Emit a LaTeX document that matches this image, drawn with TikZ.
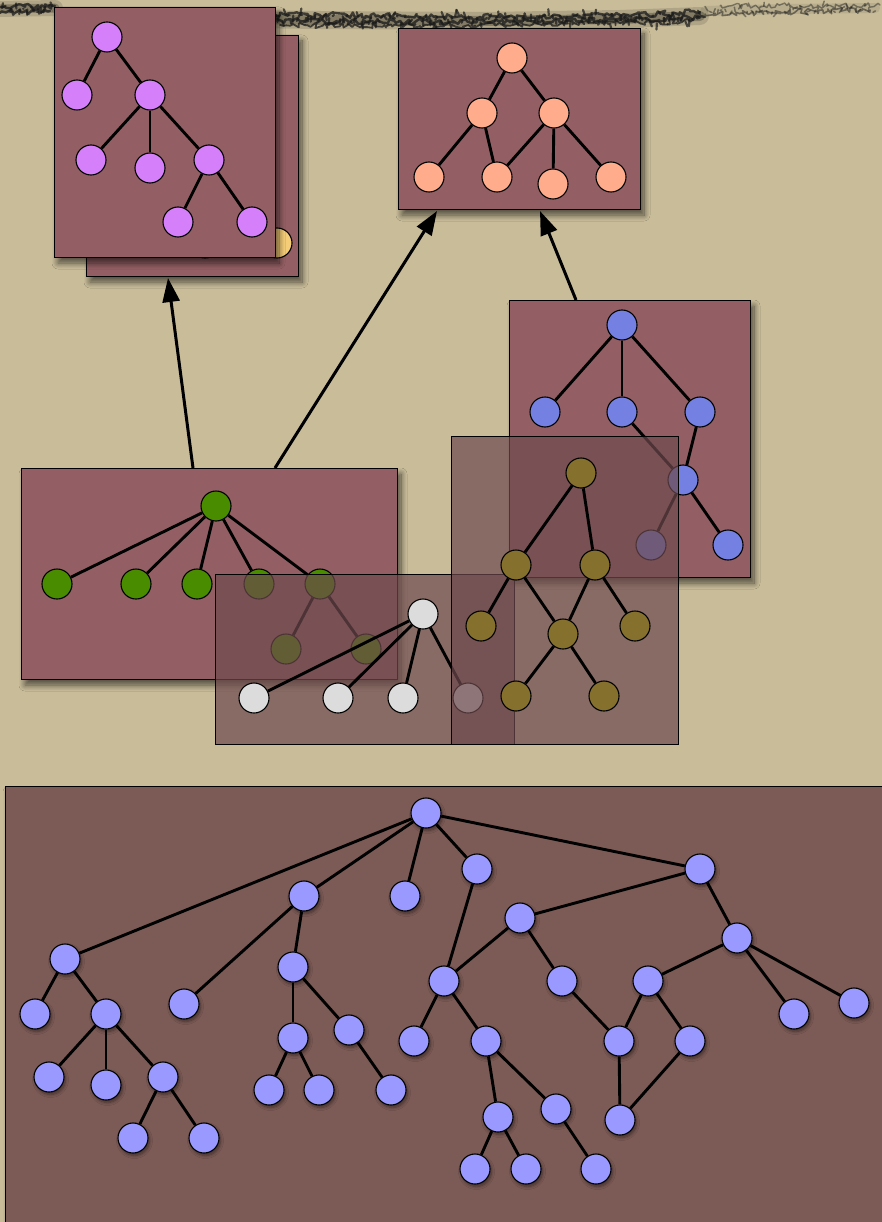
\documentclass[tikz,border=0pt]{standalone}
\usetikzlibrary{shadows.blur,arrows.meta,decorations.pathmorphing}
\definecolor{paper}{HTML}{C8BC99}
\definecolor{panelc}{HTML}{935F64}
\definecolor{glassc}{HTML}{6E4A4E}
\definecolor{basec}{HTML}{7C5A55}
\definecolor{purplec}{HTML}{D580FA}
\definecolor{yellowc}{HTML}{F5CD78}
\definecolor{peachc}{HTML}{FFAC8C}
\definecolor{bluec}{HTML}{7480E2}
\definecolor{greenc}{HTML}{4A8C00}
\definecolor{whitec}{HTML}{DCDCDC}
\definecolor{olivec}{HTML}{85702E}
\definecolor{lilacc}{HTML}{9999FF}
\tikzset{
  panel/.style={draw=black, line width=0.9pt, fill=panelc, inner sep=0pt, outer sep=0pt,
    anchor=north west, blur shadow={shadow xshift=4pt, shadow yshift=-6pt,
    shadow blur radius=6pt, shadow blur steps=10, shadow opacity=60}},
  glass/.style={draw=black, line width=0.9pt, fill=glassc, fill opacity=0.7,
    inner sep=0pt, outer sep=0pt, anchor=north west},
  tn/.style={circle, draw=black, line width=1.1pt, minimum size=30pt, inner sep=0pt},
  tnsh/.style={tn, blur shadow={shadow xshift=1.5pt, shadow yshift=-2.5pt,
    shadow blur radius=3pt, shadow blur steps=6, shadow opacity=45}},
  ed/.style={line width=2.9pt, draw=black},
  arr/.style={line width=3pt, draw=black, -{Triangle[length=24pt,width=17pt]}},
  scrib/.style={draw=black!90, line width=2.4pt, opacity=0.75, line cap=round,
    line join=round, decorate,
    decoration={random steps, segment length=2.5pt, amplitude=3pt}},
  inkstroke/.style={draw=black!90, line width=2.2pt, opacity=0.7, line cap=round},
  inkhaze/.style={draw=black, line cap=round, line join=round}
}
\begin{document}
\begin{tikzpicture}[x=1pt,y=-1pt]
\pgfmathsetseed{11}
\fill[paper] (0,0) rectangle (882,1222);
\useasboundingbox (0,0) rectangle (882,1222);

% handwritten ink line along the top edge of the sheet
\draw[inkhaze, line width=16pt, opacity=0.12] (0,9) -- (55,8);
\draw[inkhaze, line width=9pt, opacity=0.25] (0,9) -- (55,8);
\draw[inkhaze, line width=18pt, opacity=0.12] (160,18) -- (320,20) -- (480,21) -- (620,19) -- (700,16);
\draw[inkhaze, line width=10pt, opacity=0.25] (160,18) -- (320,20) -- (480,21) -- (620,19) -- (700,16);
\draw[inkhaze, line width=10pt, opacity=0.08] (705,11) -- (790,9) -- (875,8);
\draw[scrib] (0,7) -- (55,6);
\draw[scrib] (0,13) -- (50,11);
\draw[scrib] (150,18) -- (300,21) -- (450,22) -- (600,20) -- (705,17);
\draw[scrib] (160,13) -- (320,15) -- (480,17) -- (620,15) -- (700,12);
\draw[scrib, line width=1.8pt] (280,25) -- (420,26) -- (560,24) -- (690,21);
\draw[scrib, line width=1.6pt, opacity=0.5] (705,14) -- (780,12) -- (870,10);
\draw[scrib, line width=1.4pt, opacity=0.45] (720,6) -- (800,6) -- (880,5);
\foreach \i in {0,...,150} {
  \pgfmathsetmacro\xx{160+\i*3.6}
  \pgfmathsetmacro\yy{19+rand*5}
  \pgfmathsetmacro\dx{rand*3}
  \pgfmathsetmacro\dy{rand*7}
  \draw[inkstroke] (\xx,\yy) -- ++(\dx,\dy);
}
\foreach \i in {0,...,14} {
  \pgfmathsetmacro\xx{2+\i*3.6}
  \pgfmathsetmacro\yy{9+rand*4}
  \pgfmathsetmacro\dx{rand*3}
  \pgfmathsetmacro\dy{rand*6}
  \draw[inkstroke] (\xx,\yy) -- ++(\dx,\dy);
}
\foreach \i in {0,...,40} {
  \pgfmathsetmacro\xx{705+\i*4.2}
  \pgfmathsetmacro\yy{10+rand*4}
  \pgfmathsetmacro\dx{rand*3}
  \pgfmathsetmacro\dy{rand*5}
  \draw[inkstroke, opacity=0.45, line width=1.5pt] (\xx,\yy) -- ++(\dx,\dy);
}

% ---------- purple tree (with a stacked panel behind it) ----------
\node[panel, minimum width=212pt, minimum height=241pt] (pBack) at (86,35) {};
\node[tn, fill=yellowc] (ye1) at (205,243) {};
\node[tn, fill=yellowc] (ye2) at (277,243) {};
\node[panel, minimum width=221pt, minimum height=250pt] (pFront) at (54,7) {};
\node[tn, fill=purplec] (pu1) at (107,37) {};
\node[tn, fill=purplec] (pu2) at (77,95) {};
\node[tn, fill=purplec] (pu3) at (150,95) {};
\node[tn, fill=purplec] (pu4) at (91,160) {};
\node[tn, fill=purplec] (pu5) at (150,168) {};
\node[tn, fill=purplec] (pu6) at (209,160) {};
\node[tn, fill=purplec] (pu7) at (178,222) {};
\node[tn, fill=purplec] (pu8) at (252,222) {};
\draw[ed] (pu1) -- (pu2);
\draw[ed] (pu1) -- (pu3);
\draw[ed] (pu3) -- (pu4);
\draw[ed] (pu3) -- (pu5);
\draw[ed] (pu3) -- (pu6);
\draw[ed] (pu6) -- (pu7);
\draw[ed] (pu6) -- (pu8);

% ---------- peach tree ----------
\node[panel, minimum width=242pt, minimum height=181pt] (pPeach) at (398,28) {};
\node[tn, fill=peachc] (pe1) at (512,58) {};
\node[tn, fill=peachc] (pe2) at (482,113) {};
\node[tn, fill=peachc] (pe3) at (554,113) {};
\node[tn, fill=peachc] (pe4) at (429,177) {};
\node[tn, fill=peachc] (pe5) at (497,177) {};
\node[tn, fill=peachc] (pe6) at (553,184) {};
\node[tn, fill=peachc] (pe7) at (611,177) {};
\draw[ed] (pe1) -- (pe2);
\draw[ed] (pe1) -- (pe3);
\draw[ed] (pe2) -- (pe4);
\draw[ed] (pe2) -- (pe5);
\draw[ed] (pe3) -- (pe5);
\draw[ed] (pe3) -- (pe6);
\draw[ed] (pe3) -- (pe7);

% ---------- blue tree ----------
\node[panel, minimum width=241pt, minimum height=277pt] (pBlue) at (509,300) {};
\node[tn, fill=bluec] (bl1) at (622,325) {};
\node[tn, fill=bluec] (bl2) at (545,412) {};
\node[tn, fill=bluec] (bl3) at (622,412) {};
\node[tn, fill=bluec] (bl4) at (700,412) {};
\node[tn, fill=bluec] (bl5) at (683,480) {};
\node[tn, fill=bluec] (bl6) at (651,545) {};
\node[tn, fill=bluec] (bl7) at (728,545) {};
\draw[ed] (bl1) -- (bl2);
\draw[ed] (bl1) -- (bl3);
\draw[ed] (bl1) -- (bl4);
\draw[ed] (bl3) -- (bl5);
\draw[ed] (bl4) -- (bl5);
\draw[ed] (bl5) -- (bl6);
\draw[ed] (bl5) -- (bl7);

% ---------- green tree ----------
\node[panel, minimum width=376pt, minimum height=211pt] (pGreen) at (21,468) {};
\node[tn, fill=greenc] (gr1) at (216,506) {};
\node[tn, fill=greenc] (gr2) at (57,584) {};
\node[tn, fill=greenc] (gr3) at (136,584) {};
\node[tn, fill=greenc] (gr4) at (197,584) {};
\node[tn, fill=greenc] (gr5) at (259,584) {};
\node[tn, fill=greenc] (gr6) at (320,584) {};
\node[tn, fill=greenc] (gr7) at (286,649) {};
\node[tn, fill=greenc] (gr8) at (366,649) {};
\foreach \c in {gr2,gr3,gr4,gr5,gr6} \draw[ed] (gr1) -- (\c);
\draw[ed] (gr6) -- (gr7);
\draw[ed] (gr6) -- (gr8);

% ---------- connectors between the panels ----------
\coordinate (gOutA) at (193,468);
\coordinate (gOutB) at (275,468);
\coordinate (bOut) at (576,300);
\coordinate (purpleIn) at (168,278);
\coordinate (peachInA) at (437,211);
\coordinate (peachInB) at (540,211);
\draw[arr] (gOutA) -- (purpleIn);
\draw[arr] (gOutB) -- (peachInA);
\draw[arr] (bOut) -- (peachInB);

% ---------- white tree (translucent panel) ----------
\node[glass, minimum width=299pt, minimum height=170pt] (pWhite) at (215,574) {};
\node[tn, fill=whitec] (wh1) at (423,614) {};
\node[tn, fill=whitec] (wh2) at (254,698) {};
\node[tn, fill=whitec] (wh3) at (338,698) {};
\node[tn, fill=whitec] (wh4) at (403,698) {};
\node[tn, fill=whitec] (wh5) at (468,698) {};
\foreach \c in {wh2,wh3,wh4,wh5} \draw[ed] (wh1) -- (\c);

% ---------- olive tree (translucent panel) ----------
\node[glass, minimum width=227pt, minimum height=308pt] (pOlive) at (451,436) {};
\node[tn, fill=olivec] (ol1) at (581,473) {};
\node[tn, fill=olivec] (ol2) at (516,565) {};
\node[tn, fill=olivec] (ol3) at (595,565) {};
\node[tn, fill=olivec] (ol4) at (481,626) {};
\node[tn, fill=olivec] (ol5) at (563,634) {};
\node[tn, fill=olivec] (ol6) at (635,626) {};
\node[tn, fill=olivec] (ol7) at (516,696) {};
\node[tn, fill=olivec] (ol8) at (604,696) {};
\draw[ed] (ol1) -- (ol2);
\draw[ed] (ol1) -- (ol3);
\draw[ed] (ol2) -- (ol4);
\draw[ed] (ol2) -- (ol5);
\draw[ed] (ol3) -- (ol5);
\draw[ed] (ol3) -- (ol6);
\draw[ed] (ol5) -- (ol7);
\draw[ed] (ol5) -- (ol8);

% ---------- large lilac graph ----------
\node[panel, fill=basec, minimum width=900pt, minimum height=460pt] (pBase) at (5,786) {};
\foreach \n/\x/\y in {
  r/426/813, a/304/896, b/405/896, c/477/869, d/700/869,
  l1/65/959, l2/35/1014, l3/106/1014, l4/49/1077, l5/106/1085, l6/163/1077,
  l7/133/1138, l8/204/1138,
  a1/184/1004, a2/293/967, a3/293/1038, a4/349/1030, a5/269/1090, a6/319/1090, a7/391/1090,
  m1/444/981, m2/520/918, m3/562/981, m4/414/1041, m5/486/1041, m6/498/1117, m7/556/1109,
  m8/475/1169, m9/526/1169, m10/596/1169,
  n1/737/938, n2/648/981, n3/794/1014, n4/854/1003, n5/619/1041, n6/690/1041, n7/620/1120}
  \node[tnsh, fill=lilacc] (\n) at (\x,\y) {};
\foreach \p/\q in {r/l1, r/a, r/b, r/c, r/d,
  l1/l2, l1/l3, l3/l4, l3/l5, l3/l6, l6/l7, l6/l8,
  a/a1, a/a2, a2/a3, a2/a4, a3/a5, a3/a6, a4/a7,
  c/m1, d/m2, d/n1, m2/m1, m2/m3, m1/m4, m1/m5, m5/m6, m5/m7, m6/m8, m6/m9, m7/m10,
  m3/n5, n1/n2, n1/n3, n1/n4, n2/n5, n2/n6, n5/n7, n6/n7}
  \draw[ed] (\p) -- (\q);
\end{tikzpicture}
\end{document}
